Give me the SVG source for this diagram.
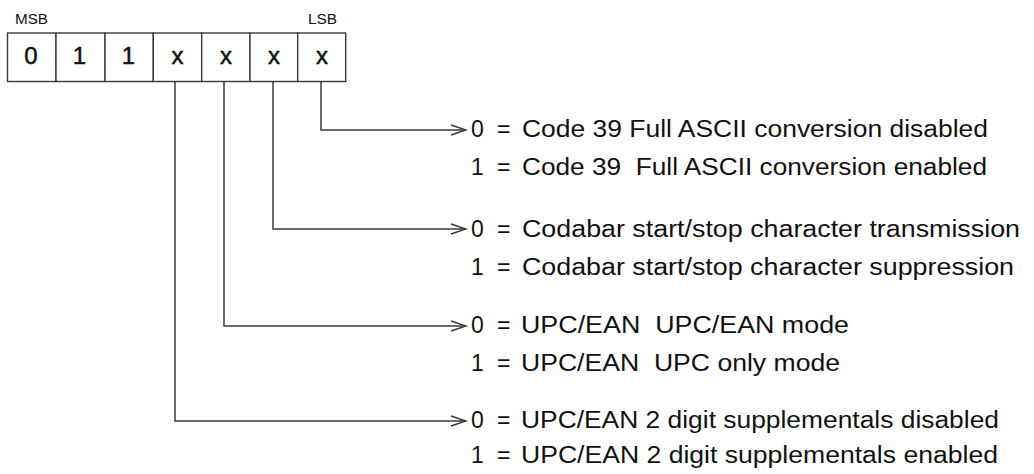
<svg xmlns="http://www.w3.org/2000/svg" width="1034" height="474" viewBox="0 0 1034 474">
  <defs>
    <style>
      .cell { fill: #ffffff; stroke: #3a3a3a; stroke-width: 1.4; }
      .bit { font-family: "Liberation Sans", Arial, sans-serif; font-size: 24px; fill: #111; stroke: #111; stroke-width: 0.5; text-anchor: middle; }
      .lbl { font-family: "Liberation Sans", Arial, sans-serif; font-size: 14px; fill: #111; }
      .desc { font-family: "Liberation Sans", Arial, sans-serif; font-size: 23px; fill: #111; white-space: pre; }
      .conn { fill: none; stroke: #3a3a3a; stroke-width: 1.5; }
    </style>
    <marker id="chev" markerUnits="userSpaceOnUse" markerWidth="18" markerHeight="14" refX="16" refY="6" orient="auto">
      <path d="M1,1 L16,6 L1,11" fill="none" stroke="#3a3a3a" stroke-width="1.5"/>
    </marker>
  </defs>
  <rect width="1034" height="474" fill="#ffffff"/>

  <g id="msb-label"><text class="lbl" x="15" y="24" textLength="33" lengthAdjust="spacingAndGlyphs">MSB</text></g>
  <g id="lsb-label"><text class="lbl" x="308" y="24" textLength="29" lengthAdjust="spacingAndGlyphs">LSB</text></g>

  <g id="register">
    <rect class="cell" x="7.5" y="33" width="48.5" height="48.5"/>
    <rect class="cell" x="56" y="33" width="49" height="48.5"/>
    <rect class="cell" x="105" y="33" width="48.3" height="48.5"/>
    <rect class="cell" x="153.3" y="33" width="48.4" height="48.5"/>
    <rect class="cell" x="201.7" y="33" width="48.3" height="48.5"/>
    <rect class="cell" x="250" y="33" width="47.7" height="48.5"/>
    <rect class="cell" x="297.7" y="33" width="48" height="48.5"/>
    <text class="bit" x="31" y="63.5">0</text>
    <text class="bit" x="79.5" y="63.5">1</text>
    <text class="bit" x="128.5" y="63.5">1</text>
    <text class="bit" x="177.5" y="63.5">x</text>
    <text class="bit" x="226" y="63.5">x</text>
    <text class="bit" x="274" y="63.5">x</text>
    <text class="bit" x="322" y="63.5">x</text>
  </g>

  <g id="connectors">
    <path class="conn" d="M321,81.5 V130 H466" marker-end="url(#chev)"/>
    <path class="conn" d="M273,81.5 V229 H466" marker-end="url(#chev)"/>
    <path class="conn" d="M224,81.5 V326 H466" marker-end="url(#chev)"/>
    <path class="conn" d="M175,81.5 V421 H466" marker-end="url(#chev)"/>
  </g>

  <g id="desc-bit0">
    <text class="desc" x="471" y="137">0</text><text class="desc" x="497" y="137">=</text>
    <text class="desc" x="522" y="137" textLength="466" lengthAdjust="spacingAndGlyphs">Code 39 Full ASCII conversion disabled</text>
    <text class="desc" x="471" y="175">1</text><text class="desc" x="497" y="175">=</text>
    <text class="desc" xml:space="preserve" x="522" y="175" textLength="465" lengthAdjust="spacingAndGlyphs">Code 39  Full ASCII conversion enabled</text>
  </g>
  <g id="desc-bit1">
    <text class="desc" x="471" y="237">0</text><text class="desc" x="497" y="237">=</text>
    <text class="desc" x="522" y="237" textLength="498" lengthAdjust="spacingAndGlyphs">Codabar start/stop character transmission</text>
    <text class="desc" x="471" y="275">1</text><text class="desc" x="497" y="275">=</text>
    <text class="desc" x="522" y="275" textLength="492" lengthAdjust="spacingAndGlyphs">Codabar start/stop character suppression</text>
  </g>
  <g id="desc-bit2">
    <text class="desc" x="471" y="333">0</text><text class="desc" x="497" y="333">=</text>
    <text class="desc" xml:space="preserve" x="521" y="333" textLength="328" lengthAdjust="spacingAndGlyphs">UPC/EAN  UPC/EAN mode</text>
    <text class="desc" x="471" y="371">1</text><text class="desc" x="497" y="371">=</text>
    <text class="desc" xml:space="preserve" x="521" y="371" textLength="319" lengthAdjust="spacingAndGlyphs">UPC/EAN  UPC only mode</text>
  </g>
  <g id="desc-bit3">
    <text class="desc" x="471" y="428">0</text><text class="desc" x="497" y="428">=</text>
    <text class="desc" x="521" y="428" textLength="478" lengthAdjust="spacingAndGlyphs">UPC/EAN 2 digit supplementals disabled</text>
    <text class="desc" x="471" y="463">1</text><text class="desc" x="497" y="463">=</text>
    <text class="desc" x="521" y="463" textLength="477" lengthAdjust="spacingAndGlyphs">UPC/EAN 2 digit supplementals enabled</text>
  </g>
</svg>
